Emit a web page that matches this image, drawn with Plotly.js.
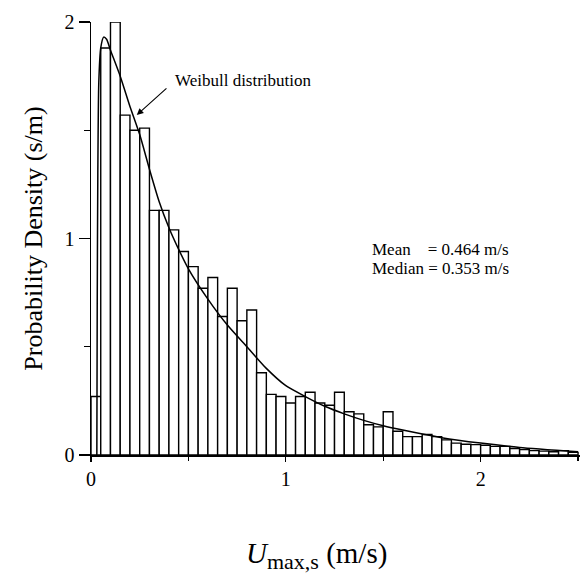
<!DOCTYPE html>
<html>
<head>
<meta charset="utf-8">
<script src="https://cdn.plot.ly/plotly-3.0.1.min.js"></script>
<style>html,body{margin:0;padding:0;background:#fff;}#chart{width:584px;height:577px;}</style>
</head>
<body>
<div id="chart"></div>
<script>
// Histogram: bin width 0.05 m/s starting at 0
const binWidth = 0.05;
const density = [0.27, 1.88, 2.00, 1.57, 1.50, 1.51, 1.13, 1.13, 1.04, 0.94,
                 0.87, 0.77, 0.82, 0.64, 0.77, 0.62, 0.67, 0.38, 0.28, 0.27,
                 0.24, 0.27, 0.29, 0.24, 0.23, 0.29, 0.20, 0.19, 0.14, 0.13,
                 0.20, 0.11, 0.085, 0.085, 0.095, 0.085, 0.07, 0.055, 0.05, 0.048,
                 0.045, 0.04, 0.04, 0.03, 0.025, 0.02, 0.018, 0.015, 0.02, 0.012];
// Weibull curve
const weibullX = [0.030, 0.032, 0.035, 0.040, 0.050, 0.065, 0.08, 0.10, 0.15, 0.20,
                  0.25, 0.30, 0.35, 0.40, 0.45, 0.50, 0.60, 0.70, 0.80, 0.90,
                  1.00, 1.10, 1.20, 1.30, 1.40, 1.50, 1.60, 1.80, 2.00, 2.20, 2.50];
const weibullY = [0.00, 0.70, 1.30, 1.72, 1.88, 1.93, 1.92, 1.87, 1.75, 1.61,
                  1.48, 1.32, 1.17, 1.05, 0.95, 0.86, 0.72, 0.60, 0.50, 0.40,
                  0.32, 0.27, 0.225, 0.19, 0.16, 0.135, 0.115, 0.08, 0.055, 0.035, 0.015];
const xTicks = [0, 1, 2];
const yTicks = [0, 1, 2];
const statsLabels = ['Mean\u00A0\u00A0\u00A0\u00A0= 0.464 m/s', 'Median = 0.353 m/s'];
const xTitle = '<i>U</i><sub><span style="font-size:22px">max,s</span></sub> (m/s)';

const binLeft = density.map((_, i) => +(i * binWidth).toFixed(3));
const serif = 'Liberation Serif, Times New Roman, serif';

const traces = [
  {
    type: 'bar', x: binLeft, y: density, width: binWidth, offset: 0,
    marker: {color: 'white', line: {color: 'black', width: 1.4}},
    hoverinfo: 'skip'
  },
  {
    type: 'scatter', mode: 'lines', x: weibullX, y: weibullY,
    line: {color: 'black', width: 1.5, shape: 'spline', smoothing: 0.6},
    hoverinfo: 'skip'
  }
];

const layout = {
  width: 584, height: 577,
  margin: {l: 91, r: 4, t: 22, b: 122},
  paper_bgcolor: 'white', plot_bgcolor: 'white',
  showlegend: false, bargap: 0,
  font: {family: serif, color: 'black', size: 18},
  xaxis: {
    range: [0, 2.51], tickvals: xTicks, ticktext: xTicks.map(String),
    ticks: 'outside', ticklen: 5, tickwidth: 1.3, tickcolor: 'black',
    minor: {dtick: 0.5, tick0: 0, ticks: 'outside', ticklen: 4, tickwidth: 1.2, tickcolor: 'black'},
    showline: true, linecolor: 'black', linewidth: 1.5,
    showgrid: false, zeroline: false,
    tickfont: {family: serif, size: 20}
  },
  yaxis: {
    range: [0, 2], tickvals: yTicks, ticktext: yTicks.map(String),
    ticks: 'outside', ticklen: 11, tickwidth: 1.3, tickcolor: 'black',
    minor: {dtick: 0.5, tick0: 0, ticks: 'outside', ticklen: 6, tickwidth: 1.2, tickcolor: 'black'},
    showline: true, linecolor: 'black', linewidth: 1.5,
    showgrid: false, zeroline: false,
    tickfont: {family: serif, size: 20},
    title: {text: 'Probability Density (s/m)', font: {family: serif, size: 26}, standoff: 14}
  },
  annotations: [
    {x: 0.462, y: -0.232, xref: 'paper', yref: 'paper', text: xTitle, showarrow: false,
     xanchor: 'center', yanchor: 'middle', font: {family: serif, size: 29}},
    {x: 0.42, y: 1.73, xref: 'x', yref: 'y', text: 'Weibull distribution', showarrow: false,
     xanchor: 'left', yanchor: 'middle', font: {family: serif, size: 17}},
    {x: 0.235, y: 1.57, ax: 0.395, ay: 1.70, xref: 'x', yref: 'y', axref: 'x', ayref: 'y',
     text: '', showarrow: true, arrowhead: 2, arrowsize: 1.2, arrowwidth: 1.1, arrowcolor: 'black'},
    {x: 1.43, y: 0.95, xref: 'x', yref: 'y', text: statsLabels[0], showarrow: false,
     xanchor: 'left', yanchor: 'middle', font: {family: serif, size: 17}},
    {x: 1.43, y: 0.86, xref: 'x', yref: 'y', text: statsLabels[1], showarrow: false,
     xanchor: 'left', yanchor: 'middle', font: {family: serif, size: 17}}
  ]
};

Plotly.newPlot('chart', traces, layout, {staticPlot: true, displayModeBar: false});
</script>
</body>
</html>
